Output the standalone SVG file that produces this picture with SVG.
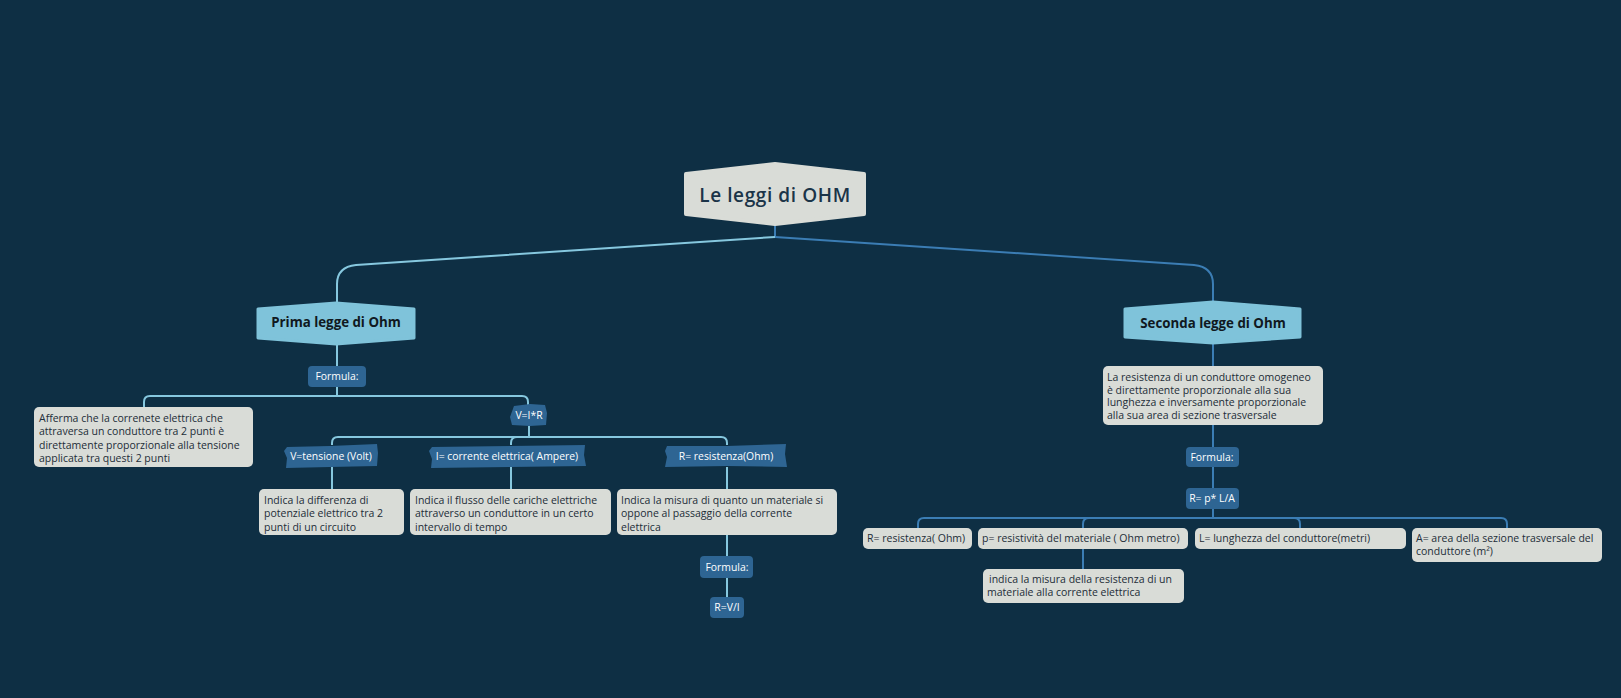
<svg xmlns="http://www.w3.org/2000/svg" width="1621" height="698" viewBox="0 0 1621 698">
<style>
.bg{fill:#0e2f44}
.root{fill:#d9dcd7;stroke:#d9dcd7;stroke-width:4;stroke-linejoin:round}
.l1{fill:#7fc3da;stroke:#7fc3da;stroke-width:3;stroke-linejoin:round}
.tag{fill:#2e6593}
.box{fill:#d9dcd7}
.cl{fill:none;stroke:#86c8df;stroke-width:2}
.cd{fill:none;stroke:#3b7db4;stroke-width:2}
text{font-family:"Open Sans","Noto Sans",sans-serif}
.t-root{font-size:19px;font-weight:600;fill:#1b3448;text-anchor:middle;letter-spacing:0.6px}
.t-l1{font-size:13.3px;font-weight:700;fill:#101820;text-anchor:middle}
.t-tag{font-size:10.4px;fill:#ffffff;text-anchor:middle}
.t-box{font-size:10.5px;fill:#1d2d38}
</style>
<rect class="bg" x="0" y="0" width="1621" height="698"/>
<g id="connectors">
<path class="cd" d="M775,225 L775,237"/>
<path class="cl" d="M775,237 L356,265 Q337,267 337,284 L337,303"/>
<path class="cd" d="M775,237 L1194,265 Q1213,267 1213,284 L1213,302"/>
<path class="cl" d="M337,344 L337,366"/>
<path class="cl" d="M337,387 L337,396"/>
<path class="cl" d="M144,407 L144,402 Q144,396 150,396 L522,396 Q528,396 528,402 L528,405"/>
<path class="cl" d="M529,426 L529,437"/>
<path class="cl" d="M332,445 L332,443 Q332,437 338,437 L721,437 Q727,437 727,443 L727,445"/>
<path class="cl" d="M511,445 L511,443 Q511,437 517,437"/>
<path class="cl" d="M332,467 L332,489"/>
<path class="cl" d="M511,467 L511,489"/>
<path class="cl" d="M727,467 L727,489"/>
<path class="cl" d="M727,535 L727,556"/>
<path class="cl" d="M727,578 L727,597"/>
<path class="cd" d="M1213,344 L1213,366"/>
<path class="cd" d="M1213,425 L1213,447"/>
<path class="cd" d="M1213,467 L1213,488"/>
<path class="cd" d="M1213,509 L1213,518"/>
<path class="cd" d="M918,528 L918,524 Q918,518 924,518 L1501,518 Q1507,518 1507,524 L1507,528"/>
<path class="cd" d="M1083,528 L1083,524 Q1083,518 1089,518"/>
<path class="cd" d="M1300,528 L1300,524 Q1300,518 1294,518"/>
<path class="cd" d="M1083,549 L1083,569"/>
</g>
<g id="root">
<polygon class="root" points="686,174 775,164 864,174 864,214 775,224 686,214"/>
<text class="t-root" x="775" y="202">Le leggi di OHM</text>
</g>
<g id="prima">
<polygon class="l1" points="258,309 336,303 414,309 414,338 336,344 258,338"/>
<text class="t-l1" x="336" y="327">Prima legge di Ohm</text>
</g>
<g id="formula1">
<rect class="tag" x="308" y="366" width="58" height="21" rx="4"/>
<text class="t-tag" x="337" y="380">Formula:</text>
</g>
<g id="afferma">
<rect class="box" x="34" y="407" width="219" height="60" rx="5"/>
<text class="t-box" x="39" y="422">Afferma che la correnete elettrica che<tspan x="39" dy="13.3">attraversa un conduttore tra 2 punti è</tspan><tspan x="39" dy="13.3">direttamente proporzionale alla tensione</tspan><tspan x="39" dy="13.3">applicata tra questi 2 punti</tspan></text>
</g>
<g id="vir">
<polygon class="tag" points="514,406 530,404 545,405 547,413 546,425 530,426 512,425 510,417"/>
<text class="t-tag" x="529" y="419">V=I*R</text>
</g>
<g id="vtensione">
<polygon class="tag" points="287,447 330,446 377,444 378,453 377,466 330,467 286,468 287,458 284,451"/>
<text class="t-tag" x="331" y="460">V=tensione (Volt)</text>
</g>
<g id="icorrente">
<polygon class="tag" points="432,447 510,446 585,445 584,455 586,466 510,467 431,468 432,459 429,451"/>
<text class="t-tag" x="507" y="460">I= corrente elettrica( Ampere)</text>
</g>
<g id="rresistenza">
<polygon class="tag" points="667,446 727,446 786,444 785,454 787,467 727,466 665,467 667,457 665,451"/>
<text class="t-tag" x="726" y="460">R= resistenza(Ohm)</text>
</g>
<g id="indica-v">
<rect class="box" x="259" y="489" width="145" height="46" rx="5"/>
<text class="t-box" x="264" y="504">Indica la differenza di<tspan x="264" dy="13.3">potenziale elettrico tra 2</tspan><tspan x="264" dy="13.3">punti di un circuito</tspan></text>
</g>
<g id="indica-i">
<rect class="box" x="410" y="489" width="201" height="46" rx="5"/>
<text class="t-box" x="415" y="504">Indica il flusso delle cariche elettriche<tspan x="415" dy="13.3">attraverso un conduttore in un certo</tspan><tspan x="415" dy="13.3">intervallo di tempo</tspan></text>
</g>
<g id="indica-r">
<rect class="box" x="617" y="489" width="220" height="46" rx="5"/>
<text class="t-box" x="621" y="504">Indica la misura di quanto un materiale si<tspan x="621" dy="13.3">oppone al passaggio della corrente</tspan><tspan x="621" dy="13.3">elettrica</tspan></text>
</g>
<g id="formula2">
<rect class="tag" x="700" y="556" width="53" height="22" rx="4"/>
<text class="t-tag" x="727" y="571">Formula:</text>
</g>
<g id="rvi">
<rect class="tag" x="710" y="597" width="34" height="21" rx="4"/>
<text class="t-tag" x="727" y="611">R=V/I</text>
</g>
<g id="seconda">
<polygon class="l1" points="1125,309 1213,302 1300,309 1300,337 1213,343 1125,337"/>
<text class="t-l1" x="1213" y="328">Seconda legge di Ohm</text>
</g>
<g id="laresistenza">
<rect class="box" x="1103" y="366" width="220" height="59" rx="5"/>
<text class="t-box" x="1107" y="381">La resistenza di un conduttore omogeneo<tspan x="1107" dy="12.7">è direttamente proporzionale alla sua</tspan><tspan x="1107" dy="12.7">lunghezza e inversamente proporzionale</tspan><tspan x="1107" dy="12.7">alla sua area di sezione trasversale</tspan></text>
</g>
<g id="formula3">
<rect class="tag" x="1186" y="447" width="53" height="20" rx="4"/>
<text class="t-tag" x="1212" y="461">Formula:</text>
</g>
<g id="rpla">
<rect class="tag" x="1186" y="488" width="53" height="21" rx="4"/>
<text class="t-tag" x="1212" y="502">R= p* L/A</text>
</g>
<g id="r-ohm">
<rect class="box" x="863" y="528" width="109" height="21" rx="5"/>
<text class="t-box" x="867" y="542">R= resistenza( Ohm)</text>
</g>
<g id="p-res">
<rect class="box" x="978" y="528" width="210" height="21" rx="5"/>
<text class="t-box" x="982" y="542">p= resistività del materiale ( Ohm metro)</text>
</g>
<g id="l-lun">
<rect class="box" x="1195" y="528" width="211" height="21" rx="5"/>
<text class="t-box" x="1199" y="542">L= lunghezza del conduttore(metri)</text>
</g>
<g id="a-area">
<rect class="box" x="1412" y="528" width="190" height="34" rx="5"/>
<text class="t-box" x="1416" y="542">A= area della sezione trasversale del<tspan x="1416" dy="13.3">conduttore (m²)</tspan></text>
</g>
<g id="indica-p">
<rect class="box" x="983" y="569" width="201" height="34" rx="5"/>
<text class="t-box" x="989" y="583">indica la misura della resistenza di un<tspan x="987" dy="13.3">materiale alla corrente elettrica</tspan></text>
</g>
</svg>
